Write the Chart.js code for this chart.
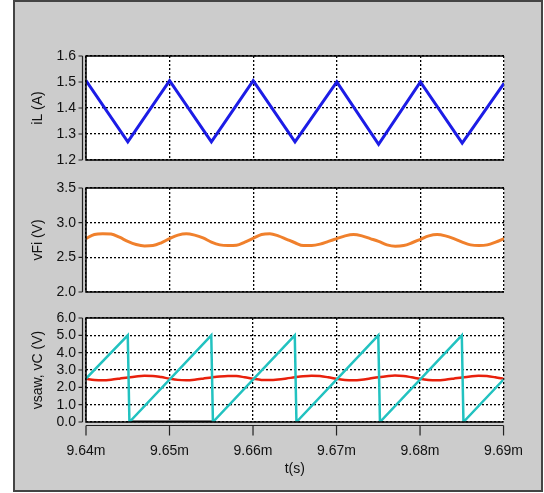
<!DOCTYPE html>
<html>
<head>
<meta charset="utf-8">
<script src="https://cdn.jsdelivr.net/npm/chart.js@4.4.1/dist/chart.umd.min.js"></script>
<style>
body { margin: 0; background: #fff; }
#frame { position: absolute; left: 13px; top: 0; width: 530px; height: 492px; box-sizing: border-box; border: 2px solid #444; background: #cccccc; }
canvas { position: absolute; left: 0; top: 0; }
</style>
</head>
<body>
<div id="frame"></div>
<canvas id="c1" width="544" height="493"></canvas>
<canvas id="c2" width="544" height="493"></canvas>
<canvas id="c3" width="544" height="493"></canvas>
<script>
// time axis (ms)
const xTicks = [9.64, 9.65, 9.66, 9.67, 9.68, 9.69];

// inductor current, corners of the triangle
const iLTime = [9.640, 9.645, 9.650, 9.655, 9.660, 9.665, 9.670, 9.675, 9.680, 9.685, 9.690];
const iLValues = [1.505, 1.27, 1.505, 1.27, 1.505, 1.27, 1.50, 1.26, 1.50, 1.265, 1.495];
const iLTicks = [1.2, 1.3, 1.4, 1.5, 1.6];

// 1us samples for the smooth traces
const fineTime = [
  9.640, 9.641, 9.642, 9.643, 9.644, 9.645, 9.646, 9.647, 9.648, 9.649,
  9.650, 9.651, 9.652, 9.653, 9.654, 9.655, 9.656, 9.657, 9.658, 9.659,
  9.660, 9.661, 9.662, 9.663, 9.664, 9.665, 9.666, 9.667, 9.668, 9.669,
  9.670, 9.671, 9.672, 9.673, 9.674, 9.675, 9.676, 9.677, 9.678, 9.679,
  9.680, 9.681, 9.682, 9.683, 9.684, 9.685, 9.686, 9.687, 9.688, 9.689,
  9.690
];
const vFiValues = [
  2.77, 2.83, 2.84, 2.835, 2.79, 2.73, 2.685, 2.665, 2.67, 2.71,
  2.77, 2.82, 2.84, 2.82, 2.78, 2.72, 2.68, 2.67, 2.675, 2.72,
  2.775, 2.83, 2.84, 2.81, 2.76, 2.71, 2.67, 2.67, 2.69, 2.73,
  2.77, 2.81, 2.83, 2.81, 2.77, 2.73, 2.68, 2.66, 2.67, 2.71,
  2.76, 2.81, 2.83, 2.81, 2.77, 2.72, 2.68, 2.67, 2.68, 2.72,
  2.77
];
const vFiTicks = [2.0, 2.5, 3.0, 3.5];

const vCValues = [
  2.49, 2.43, 2.41, 2.44, 2.50, 2.57, 2.63, 2.67, 2.66, 2.59,
  2.50, 2.43, 2.41, 2.44, 2.50, 2.57, 2.63, 2.66, 2.65, 2.58,
  2.50, 2.43, 2.42, 2.45, 2.51, 2.58, 2.64, 2.67, 2.65, 2.58,
  2.49, 2.43, 2.41, 2.44, 2.51, 2.58, 2.64, 2.68, 2.66, 2.58,
  2.49, 2.43, 2.41, 2.44, 2.50, 2.57, 2.63, 2.67, 2.65, 2.58,
  2.49
];
const sawTime = [9.640, 9.645, 9.6452, 9.655, 9.6552, 9.665, 9.6652, 9.675, 9.6752, 9.685, 9.6852, 9.690];
const sawValues = [2.5, 5.0, 0, 5.0, 0, 5.0, 0, 5.0, 0, 5.0, 0, 2.45];
const gateTime = [9.6452, 9.6551];
const gateValues = [0, 0];
const vTicks = [0, 1, 2, 3, 4, 5, 6];

const FONT = { family: "'Liberation Sans', Arial, sans-serif", size: 14 };
const pts = (xs, ys) => xs.map((x, i) => ({ x: x, y: ys[i] }));

// white plot box, solid left/top/bottom edges, offset axis lines
const boxPlugin = {
  id: 'box',
  beforeDraw(chart) {
    const { ctx, chartArea: a } = chart;
    ctx.save();
    ctx.fillStyle = '#fff';
    ctx.fillRect(a.left, a.top, a.right - a.left, a.bottom - a.top);
    ctx.restore();
  },
  afterDraw(chart, args, opts) {
    const { ctx, chartArea: a, scales } = chart;
    ctx.save();
    ctx.strokeStyle = '#000';
    ctx.lineWidth = 1.5;
    ctx.beginPath();
    ctx.moveTo(a.right, a.top);
    ctx.lineTo(a.left, a.top);
    ctx.lineTo(a.left, a.bottom);
    ctx.lineTo(a.right, a.bottom);
    ctx.stroke();

    ctx.strokeStyle = '#222';
    ctx.lineWidth = 1.2;
    ctx.beginPath();
    const ax = a.left - 3.5;
    ctx.moveTo(ax, a.top);
    ctx.lineTo(ax, a.bottom);
    scales.y.ticks.forEach(t => {
      const py = scales.y.getPixelForValue(t.value);
      ctx.moveTo(ax - 4, py);
      ctx.lineTo(ax, py);
    });
    if (opts.xAxis) {
      const ay = a.bottom + 3.5;
      ctx.moveTo(a.left, ay);
      ctx.lineTo(a.right, ay);
      scales.x.ticks.forEach(t => {
        const px = scales.x.getPixelForValue(t.value);
        ctx.moveTo(px, ay);
        ctx.lineTo(px, ay + 10);
      });
    }
    ctx.stroke();
    ctx.restore();
  }
};

function makePanel(id, datasets, yMin, yMax, yTicks, yTitle, top, bottom, showX) {
  new Chart(document.getElementById(id), {
    type: 'line',
    data: { datasets: datasets },
    plugins: [boxPlugin],
    options: {
      responsive: false,
      animation: false,
      layout: { padding: { left: 0, right: 40, top: top, bottom: showX ? 0 : bottom } },
      plugins: { legend: { display: false }, tooltip: { enabled: false }, box: { xAxis: showX } },
      elements: { point: { radius: 0 }, line: { tension: 0 } },
      scales: {
        x: {
          type: 'linear',
          min: 9.64,
          max: 9.69,
          afterBuildTicks: s => { s.ticks = xTicks.map(v => ({ value: v })); },
          afterFit: s => { s.height = showX ? bottom : 0; },
          ticks: {
            display: showX,
            autoSkip: false,
            font: FONT,
            color: '#111',
            padding: 21,
            maxRotation: 0,
            callback: v => v.toFixed(2) + 'm'
          },
          grid: { color: '#000', lineWidth: 1.3, drawTicks: false },
          border: { display: false, dash: [2, 2] },
          title: { display: showX, text: 't(s)', font: FONT, color: '#111', padding: { top: 0, bottom: 15 } }
        },
        y: {
          min: yMin,
          max: yMax,
          afterBuildTicks: s => { s.ticks = yTicks.map(v => ({ value: v })); },
          afterFit: s => { s.width = 86; },
          ticks: { font: FONT, color: '#111', padding: 10, autoSkip: false, callback: v => v.toFixed(1) },
          grid: { color: '#000', lineWidth: 1.3, drawTicks: false },
          border: { display: false, dash: [2, 2] },
          title: { display: true, text: yTitle, font: FONT, color: '#111', padding: { top: 30, bottom: 0 } }
        }
      }
    }
  });
}

makePanel('c1', [
  { data: pts(iLTime, iLValues), borderColor: '#1c1ce6', borderWidth: 3 }
], 1.2, 1.6, iLTicks, 'iL (A)', 56, 333, false);

makePanel('c2', [
  { data: pts(fineTime, vFiValues), borderColor: '#f0802c', borderWidth: 3, cubicInterpolationMode: 'monotone' }
], 2.0, 3.5, vFiTicks, 'vFi (V)', 188, 201, false);

makePanel('c3', [
  { data: pts(sawTime, sawValues), borderColor: '#22c2c0', borderWidth: 2.5, order: 0 },
  { data: pts(fineTime, vCValues), borderColor: '#e8200c', borderWidth: 2.5, cubicInterpolationMode: 'monotone', order: 1 },
  { data: pts(gateTime, gateValues), borderColor: '#000', borderWidth: 3, order: 2 }
], 0, 6, vTicks, 'vsaw, vC (V)', 318, 71, true);
</script>
</body>
</html>
